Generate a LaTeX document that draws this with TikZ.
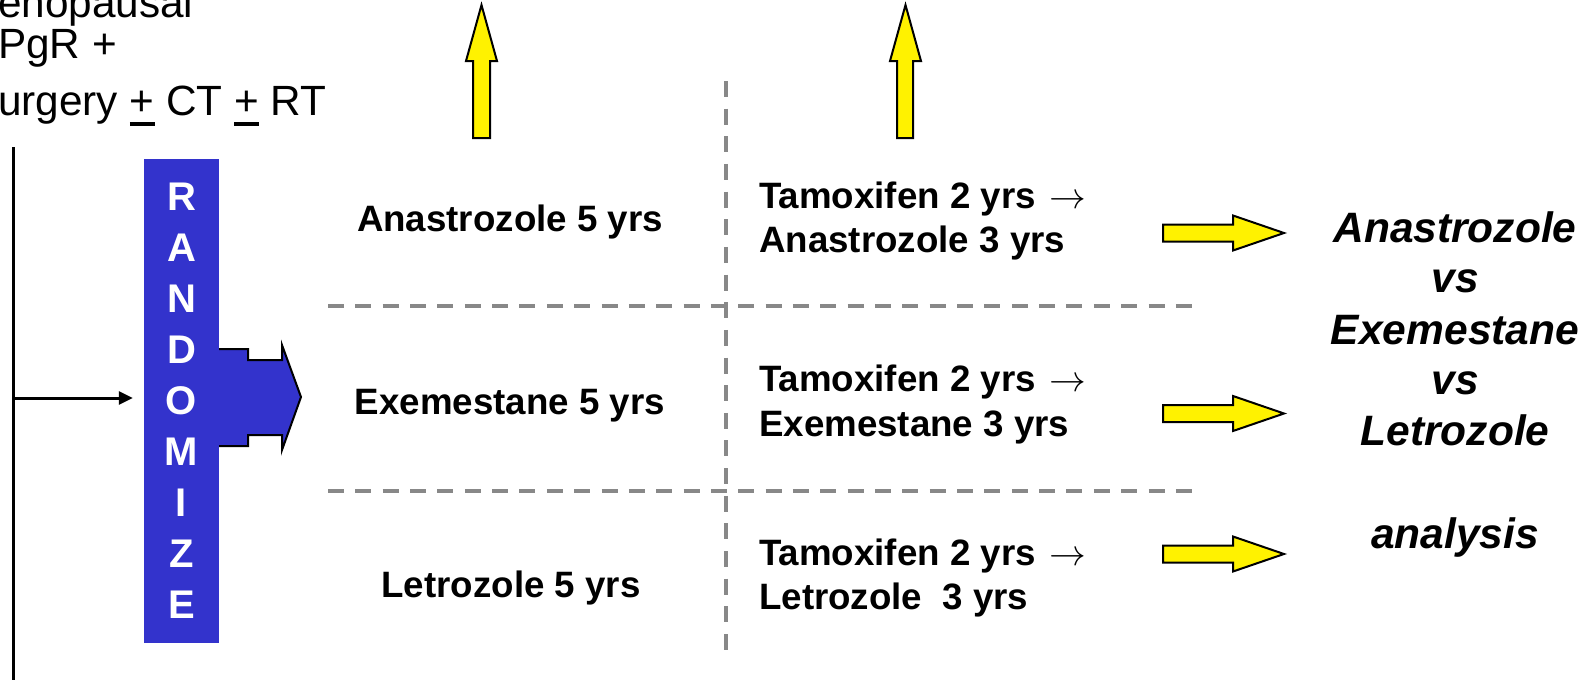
\RequirePackage{fix-cm}
\documentclass[tikz,border=0pt]{standalone}
\usepackage{fontspec}
\setmainfont{Liberation Sans}
\usetikzlibrary{arrows.meta}
\definecolor{rblue}{RGB}{51,51,204}
\definecolor{dgray}{RGB}{136,136,136}
\newcommand\ulplus{\leavevmode\makebox[0pt][l]{\rule[-10.5pt]{0.584em}{3.5pt}}+}
\tikzset{
  midtxt/.style={font=\fontsize{36.7}{44}\selectfont\bfseries, inner sep=0},
  restxt/.style={font=\fontsize{42.5}{50}\selectfont\bfseries\itshape, inner sep=0, anchor=base},
  toptxt/.style={font=\fontsize{42.3}{48}\selectfont, inner sep=0, anchor=base west},
  yarrow/.style={fill=yellow, draw=black, line width=2pt, line join=miter},
  divider/.style={draw=dgray, line width=4pt},
  randbox/.style={fill=rblue, minimum width=75pt, minimum height=484pt, inner sep=0,
     text=white, font=\fontsize{40}{51}\selectfont\bfseries, align=center},
}
\begin{document}
\begin{tikzpicture}[x=1pt,y=-1pt]
\useasboundingbox (0,0) rectangle (1593,680);

% top-left text (clipped)
\node[toptxt] (t1) at (-2,17) {enopausal};
\node[toptxt] (t2) at (-2,58) {PgR +};
\node[toptxt] (t3) at (-2,115) {urgery \ulplus{} CT \ulplus{} RT};

% left vertical line and arrow
\coordinate (lt) at (13,147);
\coordinate (lb) at (13,680);
\coordinate (la) at (13,398);
\draw[line width=3pt] (lt) -- (lb);

% randomize box
\node[randbox] (rnd) at (181.5,401) {R\\A\\N\\D\\O\\M\\I\\Z\\E};
\draw[line width=3pt, -{Triangle[length=14pt,width=13pt]}, shorten >=11pt] (la) -- (rnd.west |- la);

% blue arrow out of randomize
\fill[rblue] (218,349) -- (248,349) -- (248,360) -- (282,360) -- (282,345) -- (301,397)
   -- (282,450) -- (282,435) -- (248,435) -- (248,446) -- (218,446) -- cycle;
\draw[line width=2pt, line join=miter] (219,349) -- (248,349) -- (248,360) -- (282,360) -- (282,345) -- (301,397)
   -- (282,450) -- (282,435) -- (248,435) -- (248,446) -- (219,446);

% dividers
\coordinate (v1) at (726,81);
\coordinate (v2) at (726,650);
\coordinate (h1a) at (328,306);
\coordinate (h1b) at (1192,306);
\coordinate (h2a) at (328,491);
\coordinate (h2b) at (1192,491);
\draw[divider, dash pattern=on 16pt off 11.65pt] (v1) -- (v2);
\draw[divider, dash pattern=on 16pt off 11.35pt] (h1a) -- (h1b);
\draw[divider, dash pattern=on 16pt off 11.35pt] (h2a) -- (h2b);

% yellow up arrows
\draw[yarrow] (473,138) -- (473,61) -- (466,61) -- (481.5,5) -- (497,61) -- (490,61) -- (490,138) -- cycle;
\draw[yarrow] (897,138) -- (897,61) -- (890,61) -- (905.5,5) -- (921,61) -- (913,61) -- (913,138) -- cycle;

% yellow right arrows
\foreach \c/\n in {233/1,413.5/2,554/3}{
  \draw[yarrow] (1163,\c-8.5) -- (1233,\c-8.5) -- (1233,\c-17.5) -- (1284,\c) -- (1233,\c+17.5)
     -- (1233,\c+8.5) -- (1163,\c+8.5) -- cycle;
}

% left column
\node[midtxt, anchor=base] (a5) at (510,231) {Anastrozole 5 yrs};
\node[midtxt, anchor=base] (e5) at (510,414) {Exemestane 5 yrs};
\node[midtxt, anchor=base] (l5) at (511,597) {Letrozole 5 yrs};

% middle column
\node[midtxt, anchor=base west] (ta1) at (759,208) {Tamoxifen 2 yrs\hspace{3pt} $\rightarrow$};
\node[midtxt, anchor=base west] (ta2) at (759,252) {Anastrozole 3 yrs};
\node[midtxt, anchor=base west] (te1) at (759,391) {Tamoxifen 2 yrs\hspace{3pt} $\rightarrow$};
\node[midtxt, anchor=base west] (te2) at (759,436) {Exemestane 3 yrs};
\node[midtxt, anchor=base west] (tl1) at (759,565) {Tamoxifen 2 yrs\hspace{3pt} $\rightarrow$};
\node[midtxt, anchor=base west] (tl2) at (759,609) {Letrozole\ \ 3 yrs};

% right column
\node[restxt] (r1) at (1455,242) {Anastrozole};
\node[restxt] (r2) at (1455,292) {vs};
\node[restxt] (r3) at (1455,344) {Exemestane};
\node[restxt] (r4) at (1455,394) {vs};
\node[restxt] (r5) at (1455,445) {Letrozole};
\node[restxt] (r6) at (1455,548) {analysis};
\end{tikzpicture}
\end{document}
